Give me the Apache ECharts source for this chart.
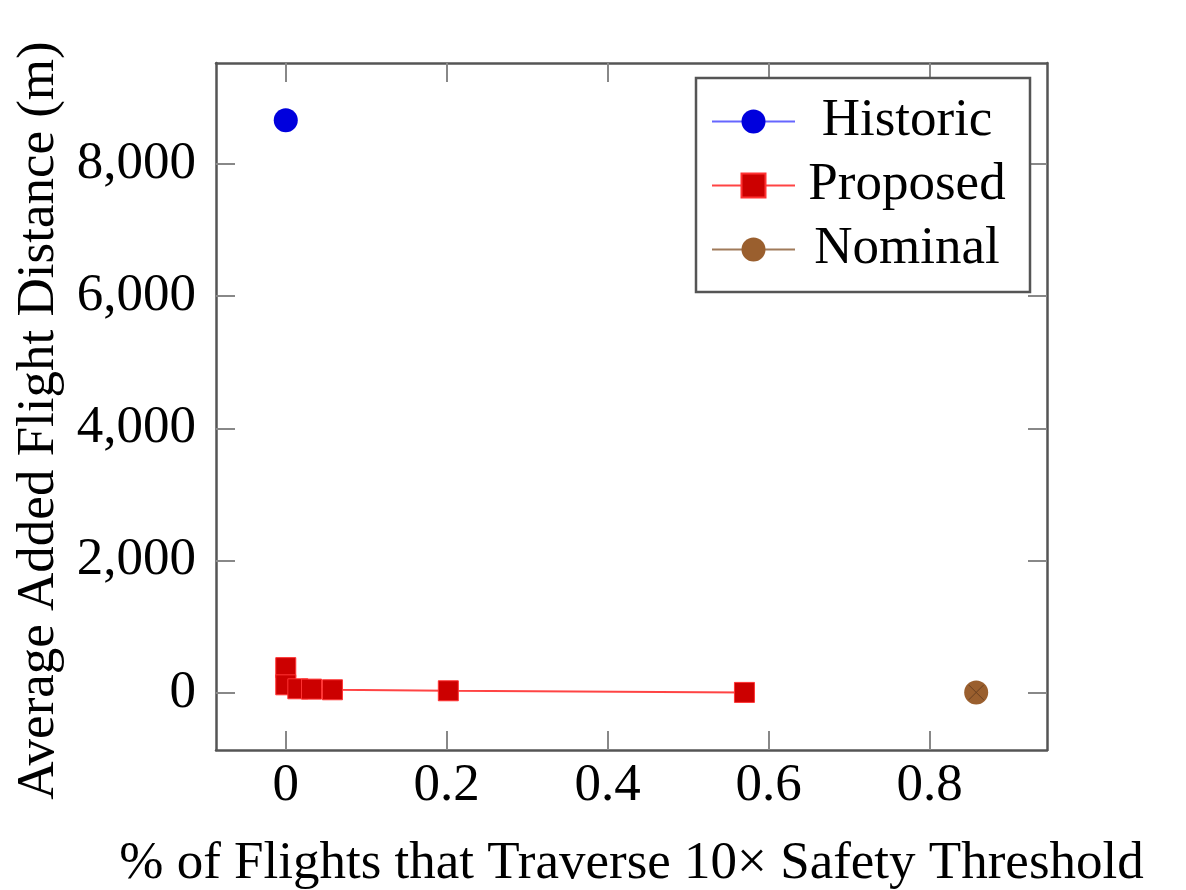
<!DOCTYPE html>
<html><head><meta charset="utf-8">
<script src="https://cdn.jsdelivr.net/npm/echarts@6/dist/echarts.min.js"></script>
<style>html,body{margin:0;padding:0;background:#fff}#c{width:1186px;height:890px}</style>
</head><body><div id="c"></div>
<script>
const historicX = [0];
const historicY = [8660];
const proposedX = [0, 0, 0.015, 0.032, 0.058, 0.202, 0.570];
const proposedY = [380, 120, 60, 55, 45, 30, 5];
const nominalX = [0.858];
const nominalY = [5];
const xTicks = [0, 0.2, 0.4, 0.6, 0.8];
const yTicks = [0, 2000, 4000, 6000, 8000];
const xTitle = '% of Flights that Traverse 10\u00d7 Safety Threshold';
const yTitle = 'Average Added Flight Distance (m)';

const zip = (xs, ys) => xs.map((x, i) => [x, ys[i]]);
const F = 'Liberation Serif';
const FS = 53;
const frame = {lineStyle: {color: '#555', width: 2.5}};
const tick = {show: true, inside: true, length: 19, lineStyle: {color: '#888', width: 2}};
const chart = echarts.init(document.getElementById('c'));
chart.setOption({
  animation: false,
  grid: {left: 216, right: 139, top: 63, bottom: 140, containLabel: false, outerBoundsMode: 'none'},
  legend: {
    orient: 'vertical', left: 696, top: 78,
    padding: [17, 16, 16, 15],
    borderColor: '#555', borderWidth: 2.5, backgroundColor: '#fff',
    itemWidth: 83, itemHeight: 30, itemGap: 11,
    formatter: n => '{c|' + n + '}',
    textStyle: {fontFamily: F, fontSize: FS, color: '#000', lineHeight: FS,
      rich: {c: {fontFamily: F, fontSize: FS, color: '#000', width: 214, align: 'center', lineHeight: FS}}},
    data: ['Historic', 'Proposed', 'Nominal']
  },
  xAxis: [{
    type: 'value', min: -0.0867, max: 0.946,
    axisLine: {show: true, onZero: false, ...frame},
    splitLine: {show: false},
    axisTick: {...tick, customValues: xTicks},
    axisLabel: {customValues: xTicks, fontFamily: F, fontSize: FS, color: '#000', margin: 10,
      formatter: v => (v === 0 ? '0' : String(v))},
    name: xTitle, nameLocation: 'middle', nameGap: 88,
    nameTextStyle: {fontFamily: F, fontSize: FS, color: '#000', verticalAlign: 'top'}
  }, {
    type: 'value', position: 'top', min: -0.0867, max: 0.946,
    axisLine: {show: true, onZero: false, ...frame},
    splitLine: {show: false},
    axisTick: {...tick, customValues: xTicks},
    axisLabel: {show: false}
  }],
  yAxis: [{
    type: 'value', min: -866, max: 9526,
    axisLine: {show: true, onZero: false, ...frame},
    splitLine: {show: false},
    axisTick: {...tick, customValues: yTicks},
    axisLabel: {customValues: yTicks, fontFamily: F, fontSize: FS, color: '#000', margin: 20,
      formatter: v => v.toLocaleString('en-US')},
    name: yTitle, nameLocation: 'middle', nameGap: 148, nameRotate: 90,
    nameTextStyle: {fontFamily: F, fontSize: FS, color: '#000', padding: [0, 28, 0, 0]}
  }, {
    type: 'value', position: 'right', min: -866, max: 9526,
    axisLine: {show: true, onZero: false, ...frame},
    splitLine: {show: false},
    axisTick: {...tick, customValues: yTicks},
    axisLabel: {show: false}
  }],
  series: [{
    name: 'Historic', type: 'line', data: zip(historicX, historicY),
    symbol: 'circle', symbolSize: 24,
    itemStyle: {color: '#0000dd'}, lineStyle: {color: '#6666ff', width: 2}
  }, {
    name: 'Proposed', type: 'line', data: zip(proposedX, proposedY),
    symbol: 'rect', symbolSize: 20,
    itemStyle: {color: '#cc0000', borderColor: '#ff3333', borderWidth: 1},
    lineStyle: {color: '#ff4444', width: 2}
  }, {
    name: 'Nominal', type: 'line', data: zip(nominalX, nominalY),
    symbol: 'circle', symbolSize: 24,
    itemStyle: {color: '#9a5f2e'}, lineStyle: {color: '#a07a5a', width: 2}
  }, {
    name: 'NominalCross', type: 'scatter', data: zip(nominalX, nominalY), silent: true, z: 10,
    symbol: 'path://M0,0L10,10M10,0L0,10', symbolSize: 15,
    itemStyle: {color: 'transparent', borderColor: '#6a4020', borderWidth: 1, opacity: 1}
  }]
});
</script></body></html>
